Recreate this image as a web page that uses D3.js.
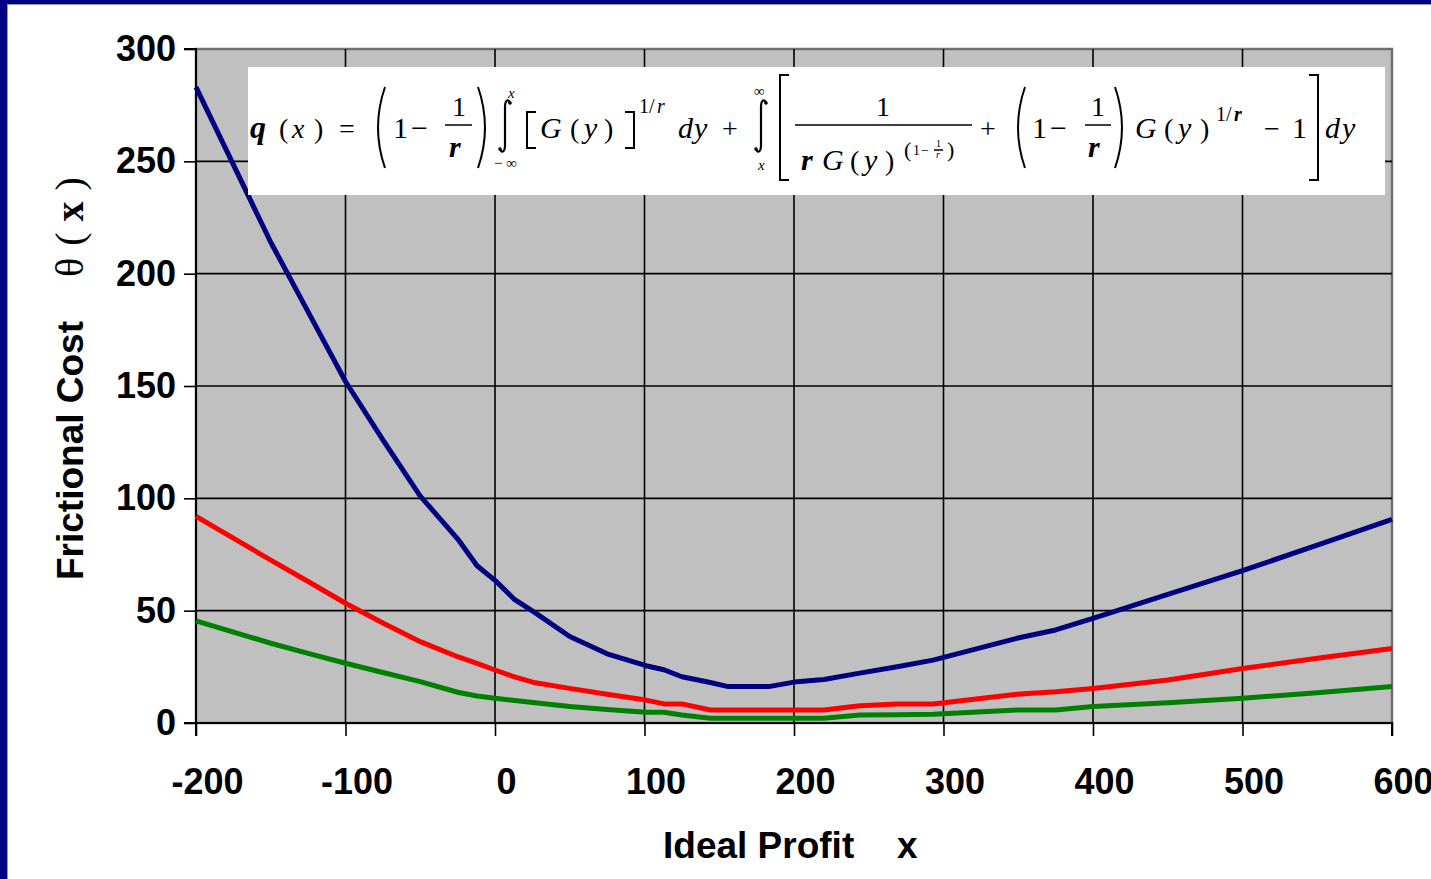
<!DOCTYPE html>
<html>
<head>
<meta charset="utf-8">
<script src="https://cdn.jsdelivr.net/npm/d3@7"></script>
<style>
  html, body { margin: 0; padding: 0; background: #fff; overflow: hidden; }
  svg { display: block; }
  .axis text { font-family: "Liberation Sans", Arial, sans-serif; font-weight: bold; font-size: 36px; fill: #000; }
  .f { font-family: "Liberation Serif", "Times New Roman", serif; fill: #000; }
</style>
</head>
<body>
<div id="chart"></div>
<script>
// Frictional cost curves
const profitX = [-200, -150, -125, -100, -75, -50, -25, -12, 0, 13, 27, 50, 75, 101, 113, 125, 144, 156, 183, 202, 220, 244, 269, 293, 349, 375, 400, 450, 500, 550, 600];
const blueCost = [283, 214, 183, 152, 126, 101, 82, 70, 63.5, 55, 49, 38.5, 30.8, 25.5, 23.7, 20.6, 18, 16.2, 16.2, 18.4, 19.4, 22.2, 25, 28, 37.7, 41.4, 46.6, 57.3, 67.8, 79.2, 90.6];
const redCost = [92, 72.5, 63, 53.3, 44.5, 36.2, 29.5, 26.5, 23.6, 20.5, 17.9, 15.4, 12.8, 10.2, 8.5, 8.5, 5.8, 5.8, 5.8, 5.8, 5.8, 7.7, 8.5, 8.5, 12.8, 13.9, 15.4, 19.1, 24.3, 28.8, 33.2];
const greenCost = [45.5, 35.5, 31, 26.6, 22.5, 18.4, 13.7, 12, 11, 10, 9, 7.3, 6, 4.8, 4.8, 3.6, 2.1, 2.1, 2.1, 2.1, 2.1, 3.6, 3.7, 3.9, 5.8, 5.8, 7.3, 9, 11, 13.5, 16.2];
const xTicks = [-200, -100, 0, 100, 200, 300, 400, 500, 600];
const yTicks = [0, 50, 100, 150, 200, 250, 300];

const W = 1431, H = 879;
const plot = { left: 196, right: 1392, top: 49, bottom: 723 };

const svg = d3.select("#chart").append("svg")
  .attr("width", W)
  .attr("height", H);

// navy frame on top and left
svg.append("rect").attr("x", 0).attr("y", 0).attr("width", W).attr("height", 4).attr("fill", "#000080");
svg.append("rect").attr("x", 0).attr("y", 0).attr("width", 7).attr("height", H).attr("fill", "#000080");
svg.append("line").attr("x1", 7).attr("x2", W).attr("y1", 4.5).attr("y2", 4.5).attr("stroke", "#9a9a9a");
svg.append("line").attr("x1", 7.5).attr("x2", 7.5).attr("y1", 4).attr("y2", H).attr("stroke", "#9a9a9a");

const x = d3.scaleLinear().domain([-200, 600]).range([plot.left, plot.right]);
const y = d3.scaleLinear().domain([0, 300]).range([plot.bottom, plot.top]);

// plot area
svg.append("rect")
  .attr("x", plot.left).attr("y", plot.top)
  .attr("width", plot.right - plot.left).attr("height", plot.bottom - plot.top)
  .attr("fill", "#c0c0c0")
  .attr("stroke", "#707070").attr("stroke-width", 2.5);

// gridlines
svg.append("g").selectAll("line")
  .data(yTicks.filter(d => d > 0 && d < 300))
  .join("line")
  .attr("x1", plot.left).attr("x2", plot.right)
  .attr("y1", d => y(d)).attr("y2", d => y(d))
  .attr("stroke", "#000").attr("stroke-width", 1.6);

svg.append("g").selectAll("line")
  .data(xTicks.filter(d => d > -200 && d < 600))
  .join("line")
  .attr("x1", d => x(d)).attr("x2", d => x(d))
  .attr("y1", plot.top).attr("y2", plot.bottom)
  .attr("stroke", "#000").attr("stroke-width", 1.6);

// axes
const xAxis = d3.axisBottom(x).tickValues(xTicks).tickSize(13).tickPadding(32).tickFormat(d => String(d));
const gx = svg.append("g").attr("class", "axis").attr("transform", `translate(0,${plot.bottom})`).call(xAxis);
gx.selectAll("text").attr("dx", 11);

const yAxis = d3.axisLeft(y).tickValues(yTicks).tickSize(12).tickPadding(8);
const gy = svg.append("g").attr("class", "axis").attr("transform", `translate(${plot.left},0)`).call(yAxis);

svg.selectAll(".axis .domain").attr("stroke", "#000").attr("stroke-width", 2);
svg.selectAll(".axis .tick line").attr("stroke", "#000").attr("stroke-width", 1.6);
gy.select(".domain").attr("d", `M${-12},${plot.top}H0V${plot.bottom}H-12`);
gx.select(".domain").attr("d", `M${plot.left},${13}V0H${plot.right}V13`);

// curves
const line = d3.line().x(d => x(d[0])).y(d => y(d[1]));
const series = [
  { values: blueCost, color: "#000080" },
  { values: redCost, color: "#ff0000" },
  { values: greenCost, color: "#008000" }
];
series.forEach(s => {
  svg.append("path")
    .datum(profitX.map((px, i) => [px, s.values[i]]))
    .attr("d", line)
    .attr("fill", "none")
    .attr("stroke", s.color)
    .attr("stroke-width", 5)
    .attr("stroke-linejoin", "round");
});

// axis titles
svg.append("text")
  .attr("x", 663).attr("y", 858)
  .attr("font-family", "Liberation Sans, Arial, sans-serif")
  .attr("font-weight", "bold").attr("font-size", 37)
  .text("Ideal Profit");
svg.append("text")
  .attr("x", 897).attr("y", 858)
  .attr("font-family", "Liberation Sans, Arial, sans-serif")
  .attr("font-weight", "bold").attr("font-size", 37)
  .text("x");

const yt = svg.append("text")
  .attr("transform", "translate(83,580) rotate(-90)")
  .attr("font-size", 37);
yt.append("tspan").attr("font-family", "Liberation Sans, Arial, sans-serif").attr("font-weight", "bold").text("Frictional Cost");
yt.append("tspan").attr("class", "f").attr("font-size", 40).attr("dx", 44).text("\u03B8");
yt.append("tspan").attr("class", "f").attr("font-size", 40).attr("dx", 12).text("(");
yt.append("tspan").attr("class", "f").attr("font-size", 40).attr("font-weight", "bold").attr("dx", 11).text("x");
yt.append("tspan").attr("class", "f").attr("font-size", 40).attr("dx", 11).text(")");

// formula box
svg.append("rect")
  .attr("x", 248).attr("y", 67).attr("width", 1137).attr("height", 128)
  .attr("fill", "#fff");

const F = svg.append("g");
function t(str, px, py, size, opts = {}) {
  F.append("text").attr("class", "f")
    .attr("x", px).attr("y", py)
    .attr("font-size", size)
    .attr("font-style", opts.it ? "italic" : "normal")
    .attr("font-weight", opts.b ? "bold" : "normal")
    .text(str);
}
function paren(x0, top, bot, dir) {
  // dir = 1 left paren "(", -1 right ")"
  const mid = (top + bot) / 2;
  const bulge = x0 - dir * 14;
  F.append("path")
    .attr("d", `M${x0},${top} Q${bulge},${mid} ${x0},${bot}`)
    .attr("fill", "none").attr("stroke", "#000").attr("stroke-width", 2);
}
function bracket(x0, top, bot, dir) {
  const w = 9 * dir;
  F.append("path")
    .attr("d", `M${x0 + w},${top} H${x0} V${bot} H${x0 + w}`)
    .attr("fill", "none").attr("stroke", "#000").attr("stroke-width", 2);
}
function bar(x1, x2, py) {
  F.append("line").attr("x1", x1).attr("x2", x2).attr("y1", py).attr("y2", py)
    .attr("stroke", "#000").attr("stroke-width", 1.5);
}
function integral(cx, top, bot) {
  F.append("path")
    .attr("d", `M${cx + 5},${top + 3} C${cx + 4},${top - 1} ${cx},${top - 1} ${cx},${top + 7} ` +
               `L${cx},${bot - 7} C${cx},${bot + 1} ${cx - 4},${bot + 1} ${cx - 5},${bot - 3}`)
    .attr("fill", "none").attr("stroke", "#000").attr("stroke-width", 2.2);
  F.append("circle").attr("cx", cx + 5).attr("cy", top + 3).attr("r", 1.8);
  F.append("circle").attr("cx", cx - 5).attr("cy", bot - 3).attr("r", 1.8);
}

const B = 138;
t("q", 250, B, 32, { it: true, b: true });
t("(", 279, B, 28); t("x", 292, B, 28, { it: true }); t(")", 314, B, 28);
t("=", 339, B, 28);
paren(385, 87, 168, 1);
t("1", 393, B, 30); t("\u2212", 411, B, 30);
t("1", 452, 116, 28); bar(445, 472, 125); t("r", 449, 157, 30, { it: true, b: true });
paren(478, 87, 168, -1);
integral(505, 100, 152);
t("x", 508, 98, 15, { it: true });
t("\u2212 \u221E", 494, 168, 15);
bracket(527, 112, 148, 1);
t("G", 540, B, 30, { it: true }); t("(", 570, B, 28); t("y", 584, B, 30, { it: true }); t(")", 604, B, 28);
bracket(634, 112, 148, -1);
t("1", 639, 113, 20); t("/", 649, 113, 20); t("r", 657, 113, 20, { it: true });
t("d", 678, B, 30, { it: true }); t("y", 694, B, 30, { it: true });
t("+", 722, B, 28);
integral(761, 100, 152);
t("\u221E", 754, 96, 15);
t("x", 758, 170, 15, { it: true });
bracket(780, 75, 180, 1);
t("1", 876, 116, 28); bar(795, 972, 125);
t("r", 801, 170, 30, { it: true, b: true }); t("G", 822, 170, 30, { it: true });
t("(", 850, 170, 28); t("y", 864, 170, 30, { it: true }); t(")", 885, 170, 28);
t("(", 904, 157, 22); t("1", 913, 155, 14); t("\u2212", 921, 155, 14);
t("1", 936, 147, 10); bar(934, 943, 150); t("r", 936, 158, 10, { it: true });
t(")", 947, 157, 22);
t("+", 980, B, 28);
paren(1025, 87, 168, 1);
t("1", 1032, B, 30); t("\u2212", 1050, B, 30);
t("1", 1091, 116, 28); bar(1085, 1111, 125); t("r", 1088, 157, 30, { it: true, b: true });
paren(1115, 87, 168, -1);
t("G", 1135, B, 30, { it: true }); t("(", 1164, B, 28); t("y", 1178, B, 30, { it: true }); t(")", 1200, B, 28);
t("1", 1216, 121, 20); t("/", 1226, 121, 20); t("r", 1234, 121, 20, { it: true, b: true });
t("\u2212", 1264, B, 28); t("1", 1292, B, 30);
bracket(1318, 75, 180, -1);
t("d", 1325, B, 30, { it: true }); t("y", 1342, B, 30, { it: true });
</script>
</body>
</html>
